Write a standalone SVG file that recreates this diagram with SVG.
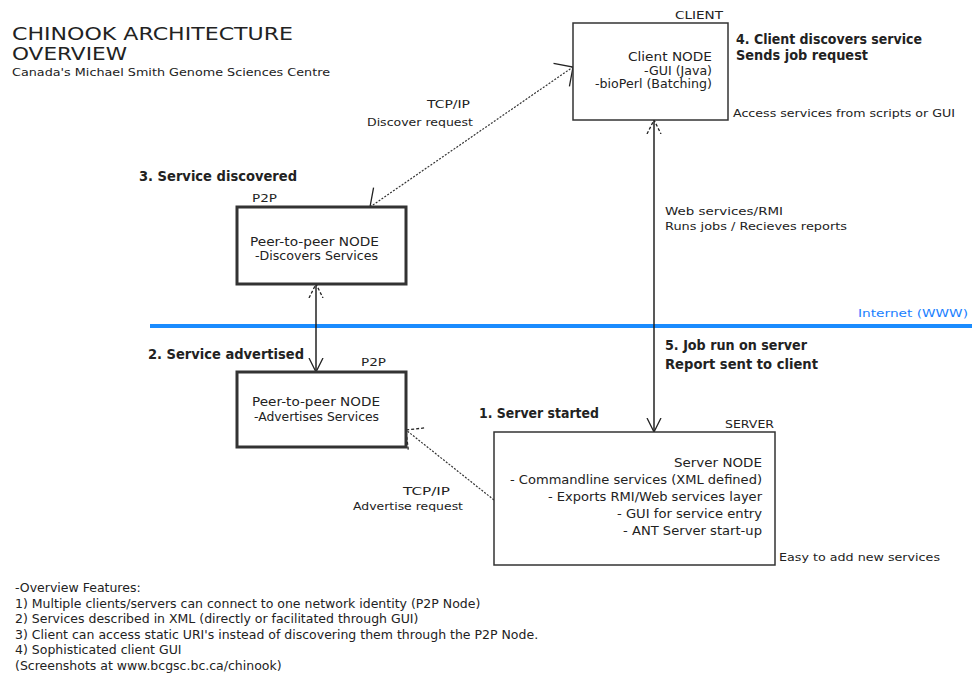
<svg xmlns="http://www.w3.org/2000/svg" width="972" height="675" viewBox="0 0 972 675">
<style>
text{font-family:"DejaVu Sans","Liberation Sans",Arial,sans-serif;fill:#222}
.t{font-size:17px}
.s{font-size:11px}
.m{font-size:12px}
.n{font-size:11.5px}
.f{font-size:12.5px}
.b{font-size:14px;font-weight:bold}
.blue{fill:#1a7fff}
.thin{fill:#fff;stroke:#333;stroke-width:1.5}
.thick{fill:#fff;stroke:#333;stroke-width:3}
.solid{fill:none;stroke:#222;stroke-width:1.5}
.dot{fill:none;stroke:#333;stroke-width:1.2;stroke-dasharray:2 1.5}
</style>
<defs>
<marker id="v" viewBox="0 0 14 16" refX="14" refY="8" markerWidth="14" markerHeight="16" markerUnits="userSpaceOnUse" orient="auto-start-reverse">
<path d="M0,1 L14,8 L0,15" fill="none" stroke="#222" stroke-width="1.3"/>
</marker>
<marker id="vd" viewBox="0 0 14 16" refX="14" refY="8" markerWidth="14" markerHeight="16" markerUnits="userSpaceOnUse" orient="auto-start-reverse">
<path d="M0,1 L14,8 L0,15" fill="none" stroke="#222" stroke-width="1.3" stroke-dasharray="3 2"/>
</marker>
<marker id="w" viewBox="0 0 16 30" refX="15" refY="15" markerWidth="16" markerHeight="30" markerUnits="userSpaceOnUse" orient="auto-start-reverse">
<path d="M1,1 L15,15 L1,29" fill="none" stroke="#222" stroke-width="1.3"/>
</marker>
<marker id="wd" viewBox="0 0 16 30" refX="15" refY="15" markerWidth="16" markerHeight="30" markerUnits="userSpaceOnUse" orient="auto-start-reverse">
<path d="M1,1 L15,15 L1,29" fill="none" stroke="#222" stroke-width="1.3" stroke-dasharray="3 2"/>
</marker>
</defs>
<rect width="972" height="675" fill="#fff"/>

<g id="title">
<text class="t" x="12" y="40" textLength="281" lengthAdjust="spacingAndGlyphs">CHINOOK ARCHITECTURE</text>
<text class="t" x="12" y="60" textLength="115" lengthAdjust="spacingAndGlyphs">OVERVIEW</text>
<text class="s" x="12" y="76" textLength="318" lengthAdjust="spacingAndGlyphs">Canada's Michael Smith Genome Sciences Centre</text>
</g>

<g id="internet">
<line x1="150" y1="326" x2="972" y2="326" stroke="#1a8cff" stroke-width="4"/>
<text class="s blue" x="968" y="317" text-anchor="end" textLength="110" lengthAdjust="spacingAndGlyphs">Internet (WWW)</text>
</g>

<g id="connectors">
<line class="dot" x1="370" y1="207" x2="573" y2="67" marker-start="url(#w)" marker-end="url(#w)"/>
<line class="solid" x1="654" y1="120" x2="654" y2="432" marker-start="url(#vd)" marker-end="url(#v)"/>
<line class="solid" x1="316" y1="284" x2="316" y2="372" marker-start="url(#vd)" marker-end="url(#v)"/>
<line class="dot" x1="494" y1="500" x2="406" y2="430" marker-end="url(#wd)"/>
</g>

<g id="client">
<rect class="thin" x="573" y="23" width="155" height="97"/>
<text class="s" x="723" y="19" text-anchor="end" textLength="48" lengthAdjust="spacingAndGlyphs">CLIENT</text>
<text class="n" x="712" y="61" text-anchor="end" textLength="84" lengthAdjust="spacingAndGlyphs">Client NODE</text>
<text class="n" x="712" y="74.5" text-anchor="end" textLength="68" lengthAdjust="spacingAndGlyphs">-GUI (Java)</text>
<text class="n" x="712" y="88" text-anchor="end" textLength="117" lengthAdjust="spacingAndGlyphs">-bioPerl (Batching)</text>
</g>

<g id="p2p-discover">
<rect class="thick" x="237" y="207" width="169" height="77"/>
<text class="s" x="252" y="202" textLength="25" lengthAdjust="spacingAndGlyphs">P2P</text>
<text class="m" x="250" y="246" textLength="129" lengthAdjust="spacingAndGlyphs">Peer-to-peer NODE</text>
<text class="m" x="255" y="260" textLength="123" lengthAdjust="spacingAndGlyphs">-Discovers Services</text>
</g>

<g id="p2p-advertise">
<rect class="thick" x="237" y="372" width="169" height="75"/>
<text class="s" x="361" y="366" textLength="25" lengthAdjust="spacingAndGlyphs">P2P</text>
<text class="m" x="252" y="406" textLength="128" lengthAdjust="spacingAndGlyphs">Peer-to-peer NODE</text>
<text class="m" x="254" y="421" textLength="125" lengthAdjust="spacingAndGlyphs">-Advertises Services</text>
</g>

<g id="server">
<rect class="thin" x="494" y="432" width="281" height="133"/>
<text class="s" x="774" y="428" text-anchor="end" textLength="49" lengthAdjust="spacingAndGlyphs">SERVER</text>
<text class="m" x="762" y="467" text-anchor="end" textLength="88" lengthAdjust="spacingAndGlyphs">Server NODE</text>
<text class="m" x="762" y="484" text-anchor="end" textLength="252" lengthAdjust="spacingAndGlyphs">- Commandline services (XML defined)</text>
<text class="m" x="762" y="501" text-anchor="end" textLength="214" lengthAdjust="spacingAndGlyphs">- Exports RMI/Web services layer</text>
<text class="m" x="762" y="518" text-anchor="end" textLength="145" lengthAdjust="spacingAndGlyphs">- GUI for service entry</text>
<text class="m" x="762" y="535" text-anchor="end" textLength="139" lengthAdjust="spacingAndGlyphs">- ANT Server start-up</text>
</g>

<g id="labels">
<text class="b" x="736" y="44" textLength="186" lengthAdjust="spacingAndGlyphs">4. Client discovers service</text>
<text class="b" x="736" y="60" textLength="132" lengthAdjust="spacingAndGlyphs">Sends job request</text>
<text class="s" x="733" y="117" textLength="222" lengthAdjust="spacingAndGlyphs">Access services from scripts or GUI</text>
<text class="s" x="427" y="108" textLength="43" lengthAdjust="spacingAndGlyphs">TCP/IP</text>
<text class="s" x="367" y="126" textLength="106" lengthAdjust="spacingAndGlyphs">Discover request</text>
<text class="b" x="139" y="181" textLength="158" lengthAdjust="spacingAndGlyphs">3. Service discovered</text>
<text class="s" x="665" y="215" textLength="118" lengthAdjust="spacingAndGlyphs">Web services/RMI</text>
<text class="s" x="665" y="230" textLength="182" lengthAdjust="spacingAndGlyphs">Runs jobs / Recieves reports</text>
<text class="b" x="665" y="350" textLength="142" lengthAdjust="spacingAndGlyphs">5. Job run on server</text>
<text class="b" x="665" y="369" textLength="153" lengthAdjust="spacingAndGlyphs">Report sent to client</text>
<text class="b" x="148" y="359" textLength="156" lengthAdjust="spacingAndGlyphs">2. Service advertised</text>
<text class="b" x="479" y="418" textLength="120" lengthAdjust="spacingAndGlyphs">1. Server started</text>
<text class="s" x="403" y="495" textLength="47" lengthAdjust="spacingAndGlyphs">TCP/IP</text>
<text class="s" x="353" y="510" textLength="110" lengthAdjust="spacingAndGlyphs">Advertise request</text>
<text class="s" x="779" y="561" textLength="161" lengthAdjust="spacingAndGlyphs">Easy to add new services</text>
</g>

<g id="features">
<text class="f" x="15" y="592">-Overview Features:</text>
<text class="f" x="15" y="607.5">1) Multiple clients/servers can connect to one network identity (P2P Node)</text>
<text class="f" x="15" y="623">2) Services described in XML (directly or facilitated through GUI)</text>
<text class="f" x="15" y="638.5">3) Client can access static URI's instead of discovering them through the P2P Node.</text>
<text class="f" x="15" y="654">4) Sophisticated client GUI</text>
<text class="f" x="15" y="669.5">(Screenshots at www.bcgsc.bc.ca/chinook)</text>
</g>
</svg>
